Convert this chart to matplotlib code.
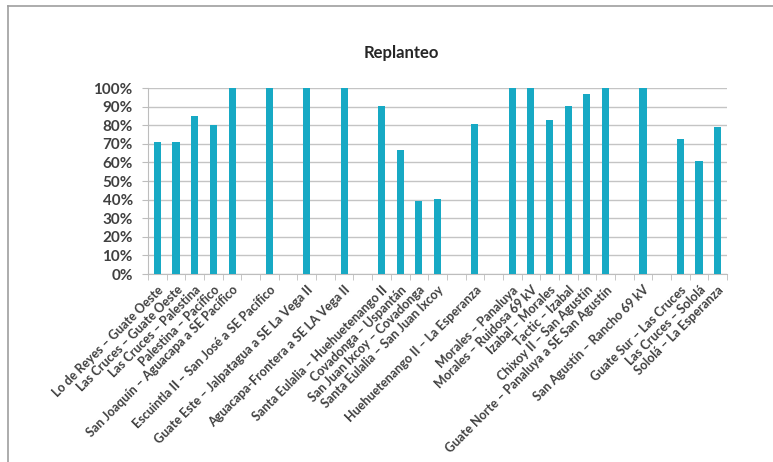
import matplotlib.pyplot as plt
import numpy as np
from matplotlib.ticker import PercentFormatter, MultipleLocator, FixedLocator
from matplotlib.lines import Line2D

plt.rcParams['font.family'] = ['Lato', 'DejaVu Sans']

# categories (blank strings are empty slots in the original sheet)
tramos = [
    'Lo de Reyes – Guate Oeste', 'Las Cruces – Guate Oeste', 'Las Cruces – Palestina',
    'Palestina – Pacífico', 'San Joaquín – Aguacapa a SE Pacífico', '',
    'Escuintla II – San José a SE Pacífico', '',
    'Guate Este – Jalpatagua a SE La Vega II', '',
    'Aguacapa-Frontera a SE LA Vega II', '',
    'Santa Eulalia – Huehuetenango II', 'Covadonga – Uspantán',
    'San Juan Ixcoy – Covadonga', 'Santa Eulalia – San Juan Ixcoy', '',
    'Huehuetenango II – La Esperanza', '',
    'Morales – Panaluya', 'Morales – Ruidosa 69 kV', 'Izabal – Morales',
    'Tactic – Izabal', 'Chixoy II – San Agustín',
    'Guate Norte – Panaluya a SE San Agustín', '',
    'San Agustín – Rancho 69 kV', '',
    'Guate Sur – Las Cruces', 'Las Cruces – Sololá', 'Sololá – La Esperanza',
]
avance = [
    71, 71, 85, 80, 100, np.nan,
    100, np.nan,
    100, np.nan,
    100, np.nan,
    90.5, 66.5, 39, 40.5, np.nan,
    80.5, np.nan,
    100, 100, 83, 90.5, 97, 100, np.nan,
    100, np.nan,
    72.5, 60.5, 79,
]

fig = plt.figure(figsize=(7.73, 4.62), dpi=100)
ax = fig.add_axes([0.1915, 0.4069, 0.749, 0.4026])

x = np.arange(len(tramos))
ax.bar(x, avance, width=0.38, color='#17A9C4', zorder=3)

ax.set_xlim(-0.5, len(tramos) - 0.5)
ax.set_ylim(0, 100)
ax.yaxis.set_major_locator(MultipleLocator(10))
ax.yaxis.set_major_formatter(PercentFormatter(100, decimals=0))
ax.grid(axis='y', color='#C4C4C4', lw=1, zorder=0)

ax.set_xticks(x)
ax.set_xticklabels(tramos, rotation=45, ha='right', rotation_mode='anchor',
                   fontsize=9, color='#404040', fontweight='bold')
ax.tick_params(axis='x', which='major', length=0, pad=7)
ax.xaxis.set_minor_locator(FixedLocator(np.arange(len(tramos) + 1) - 0.5))
ax.tick_params(axis='x', which='minor', length=4, color='#BDBDBD', direction='out')
ax.tick_params(axis='y', length=4, color='#BDBDBD', labelsize=11, labelcolor='#404040', pad=7)
for lbl in ax.get_yticklabels():
    lbl.set_fontweight('bold')

for s in ['top', 'right']:
    ax.spines[s].set_visible(False)
ax.spines['left'].set_color('#BDBDBD')
ax.spines['bottom'].set_color('#BDBDBD')

fig.text(0.5195, 1 - 53 / 462, 'Replanteo', ha='center', va='center',
         fontsize=12, fontweight='bold', color='#262626')

# outer chart frame
fig.add_artist(Line2D([8 / 773, 8 / 773], [0, 1 - 6 / 462], transform=fig.transFigure,
                      color='#9E9E9E', lw=1.2))
fig.add_artist(Line2D([8 / 773, 1], [1 - 6 / 462, 1 - 6 / 462], transform=fig.transFigure,
                      color='#9E9E9E', lw=1.2))

fig.savefig('out.png', dpi=100)
